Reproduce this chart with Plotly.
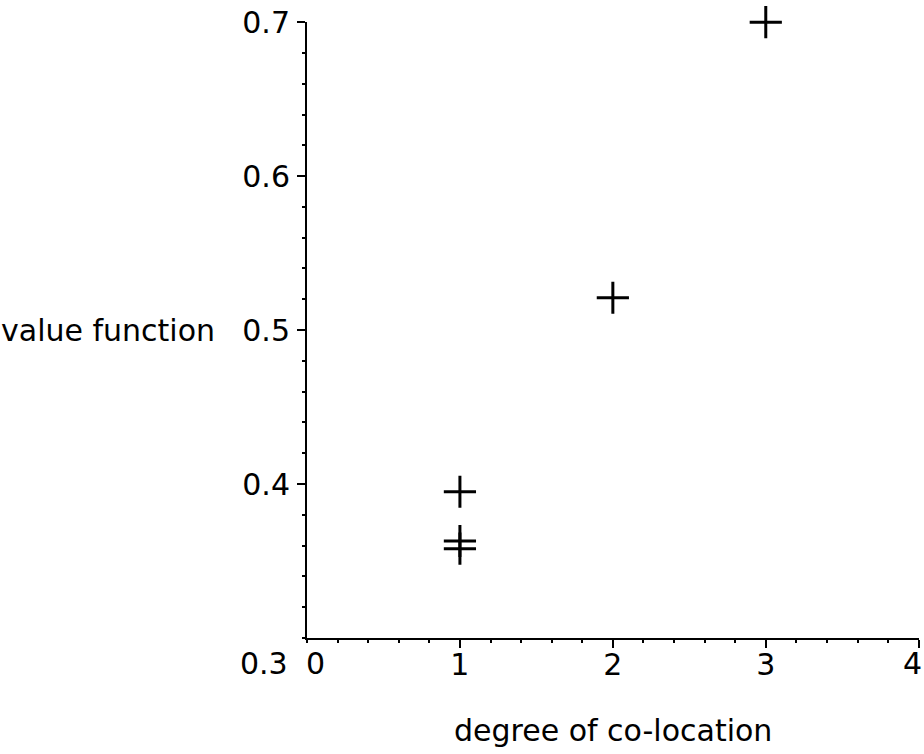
import plotly.graph_objects as go

# Data
degree = [1, 1, 1, 2, 3]
value = [0.395, 0.363, 0.358, 0.521, 0.700]

x_ticks = [1, 2, 3, 4]
x_ticklabels = ["1", "2", "3", ""]   # "4" drawn as an edge annotation below
y_ticks = [0.4, 0.5, 0.6, 0.7]
y_ticklabels = ["0.4", "0.5", "0.6", "0.7"]

FONT = "DejaVu Sans, Verdana, sans-serif"
FS = 30

fig = go.Figure()
fig.add_trace(go.Scatter(
    x=degree, y=value, mode="markers",
    marker=dict(symbol="cross-thin-open", size=23, color="black",
                line=dict(color="black", width=3)),
    showlegend=False, cliponaxis=False,
))

fig.update_layout(
    width=924, height=754,
    margin=dict(l=307, r=5, t=22, b=116, autoexpand=False),
    plot_bgcolor="white", paper_bgcolor="white",
    font=dict(family=FONT, size=FS, color="black"),
    xaxis=dict(range=[0, 4.002], tickvals=x_ticks, ticktext=x_ticklabels,
               ticks="outside", ticklen=8,
               tickwidth=2, tickcolor="black", showline=True, linecolor="black",
               linewidth=2, showgrid=False, zeroline=False, automargin=False,
               ticklabelstandoff=-9, ticklabeloverflow="allow",
               tickfont=dict(family=FONT, size=FS, color="black"),
               minor=dict(dtick=0.2, ticks="outside", ticklen=3, tickwidth=2,
                          tickcolor="black", showgrid=False)),
    yaxis=dict(range=[0.3, 0.7001], tickvals=y_ticks, ticktext=y_ticklabels,
               ticks="outside", ticklen=8, tickwidth=2, tickcolor="black",
               showline=True, linecolor="black", linewidth=2, showgrid=False,
               zeroline=False, automargin=False,
               ticklabelstandoff=1, ticklabeloverflow="allow",
               tickfont=dict(family=FONT, size=FS, color="black"),
               minor=dict(dtick=0.02, ticks="outside", ticklen=3, tickwidth=2,
                          tickcolor="black", showgrid=False)),
    annotations=[
        dict(text="value function", xref="paper", x=0, xanchor="right", xshift=-90,
             yref="y", y=0.5, yanchor="middle", showarrow=False,
             font=dict(family=FONT, size=FS, color="black")),
        dict(text="degree of co-location", xref="x", x=2, xanchor="center",
             yref="paper", y=0, yanchor="middle", yshift=-92, showarrow=False,
             font=dict(family=FONT, size=FS, color="black")),
        dict(text="0.3", xref="paper", x=0, xanchor="right", xshift=-17,
             yref="y", y=0.3, yanchor="middle", yshift=-25, showarrow=False,
             font=dict(family=FONT, size=FS, color="black")),
        dict(text="0", xref="x", x=0, xanchor="center", xshift=8,
             yref="paper", y=0, yanchor="middle", yshift=-25, showarrow=False,
             font=dict(family=FONT, size=FS, color="black")),
        dict(text="4", xref="x", x=4, xanchor="right", xshift=5,
             yref="paper", y=0, yanchor="middle", yshift=-25, showarrow=False,
             font=dict(family=FONT, size=FS, color="black")),
    ],
)

fig.write_html("out.html", config={"displayModeBar": False},
               post_script="document.body.style.margin='0px';")
